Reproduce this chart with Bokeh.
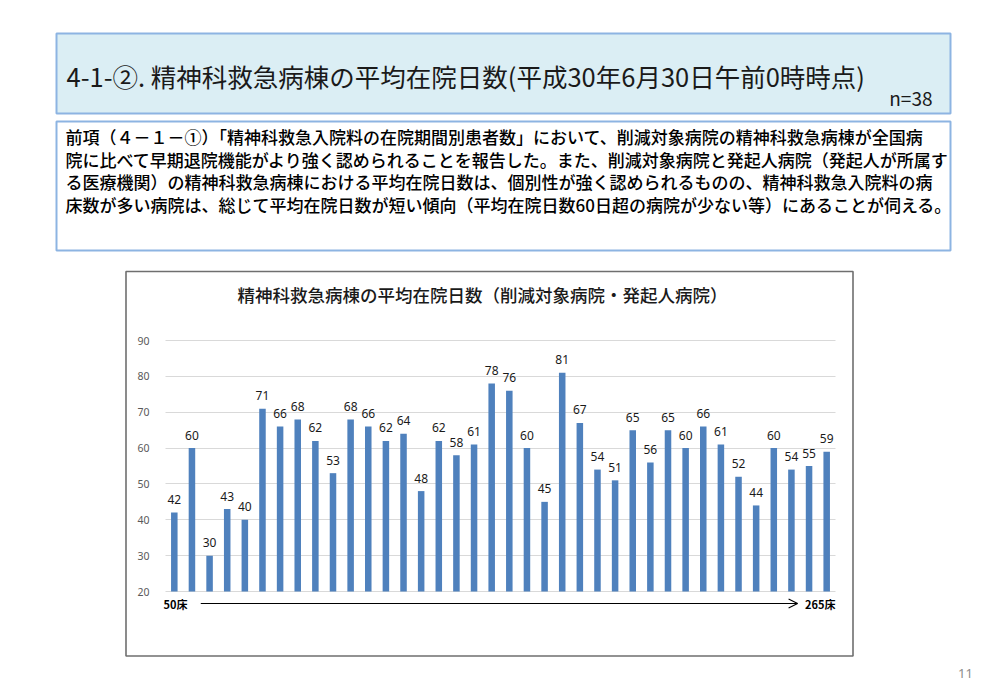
from bokeh.plotting import figure
from bokeh.models import Range1d, FixedTicker, LinearAxis, Grid, Arrow, OpenHead
from bokeh.core.properties import value
from bokeh.embed import file_html
from bokeh.resources import INLINE

CJK = "Noto Sans CJK JP"
CJK_MED = "'Noto Sans CJK JP Medium', 'Noto Sans CJK JP'"
NUM = "Noto Sans"

# ---------------- data ----------------
header_title = "4-1-②. 精神科救急病棟の平均在院日数(平成30年6月30日午前0時時点)"
n_label = "n=38"
body_lines = [
    "前項（４－１－①）「精神科救急入院料の在院期間別患者数」において、削減対象病院の精神科救急病棟が全国病",
    "院に比べて早期退院機能がより強く認められることを報告した。また、削減対象病院と発起人病院（発起人が所属す",
    "る医療機関）の精神科救急病棟における平均在院日数は、個別性が強く認められるものの、精神科救急入院料の病",
    "床数が多い病院は、総じて平均在院日数が短い傾向（平均在院日数60日超の病院が少ない等）にあることが伺える。",
]
chart_title = "精神科救急病棟の平均在院日数（削減対象病院・発起人病院）"
values = [42, 60, 30, 43, 40, 71, 66, 68, 62, 53, 68, 66, 62, 64, 48, 62, 58, 61, 78,
          76, 60, 45, 81, 67, 54, 51, 65, 56, 65, 60, 66, 61, 52, 44, 60, 54, 55, 59]
y_ticks = [20, 30, 40, 50, 60, 70, 80, 90]
left_label = "50床"
right_label = "265床"
page_number = "11"

# ---------------- layout constants (page pixels) ----------------
W, H = 1000, 692
PLOT_L, PLOT_R = 165, 835      # horizontal extent of the category axis
PLOT_T, PLOT_B = 340, 591      # pixel rows of the top / bottom y tick
BORDER = "#6F6F6F"
BOX_LINE = "#8DB4E2"

p = figure(width=W, height=H, x_range=Range1d(0, W), y_range=Range1d(H, 0),
           output_backend="svg", toolbar_location=None, min_border=0)
p.xaxis.visible = False
p.yaxis.visible = False
p.grid.visible = False
p.outline_line_color = None
p.background_fill_color = "white"
p.border_fill_color = "white"

# data ranges for the chart, placed over the page
n = len(values)
ymin, ymax = y_ticks[0], y_ticks[-1]
unit_x = (PLOT_R - PLOT_L) / n
bx_start = -0.5 - PLOT_L / unit_x
unit_y = (PLOT_B - PLOT_T) / (ymax - ymin)
vy_end = ymax + PLOT_T / unit_y
p.extra_x_ranges = {"bx": Range1d(bx_start, bx_start + W / unit_x)}
p.extra_y_ranges = {"vy": Range1d(vy_end - H / unit_y, vy_end)}

# ---------------- header boxes ----------------
p.quad(left=[56, 56], right=[950, 950], top=[33, 121], bottom=[113, 250],
       fill_color=["#DBEEF4", "white"], line_color=BOX_LINE, line_width=2)
p.text(x=[66], y=[75], text=[header_title], text_align="left", text_baseline="middle",
       text_font=value(CJK), text_font_size="25.5px", text_color="#1a1a1a")
p.text(x=[932], y=[97], text=[n_label], text_align="right", text_baseline="middle",
       text_font=value(CJK), text_font_size="19px", text_color="#1a1a1a")
p.text(x=[65] * len(body_lines), y=[136, 158.5, 181, 203.5], text=body_lines,
       text_align="left", text_baseline="middle",
       text_font=value(CJK_MED), text_font_size="17px", text_color="#000000")

# ---------------- chart box ----------------
p.quad(left=[125.5], right=[852.5], top=[271], bottom=[655.5],
       fill_color=None, line_color=BORDER, line_width=1.6)
p.text(x=[482], y=[294], text=[chart_title], text_align="center", text_baseline="middle",
       text_font=value(CJK_MED), text_font_size="17.5px", text_color="#1a1a1a")

yax = LinearAxis(y_range_name="vy", ticker=FixedTicker(ticks=y_ticks), fixed_location=PLOT_L)
yax.axis_line_color = None
yax.major_tick_line_color = None
yax.minor_tick_line_color = None
yax.major_label_standoff = 10
yax.major_label_text_font = NUM
yax.major_label_text_font_size = "10.5px"
yax.major_label_text_color = "#595959"
p.add_layout(yax, "left")

xs = list(range(n))
try:
    grid = Grid(dimension=1, ticker=FixedTicker(ticks=y_ticks), y_range_name="vy",
                cross_bounds=(PLOT_L, PLOT_R), grid_line_color="#D9D9D9", grid_line_width=1)
    p.add_layout(grid)
except Exception:
    p.segment(x0=[-0.5] * len(y_ticks), x1=[n - 0.5] * len(y_ticks), y0=y_ticks, y1=y_ticks,
              x_range_name="bx", y_range_name="vy", line_color="#D9D9D9", line_width=1)

p.vbar(x=xs, top=values, bottom=ymin, width=0.37, fill_color="#4F81BD", line_color=None,
       x_range_name="bx", y_range_name="vy")
p.text(x=xs, y=values, text=[str(v) for v in values], text_align="center",
       text_baseline="middle", y_offset=-13, text_font=value(NUM),
       text_font_size="12px", text_color="#1a1a1a", x_range_name="bx", y_range_name="vy")

arrow_y = ymin - 12 / unit_y
p.text(x=[-0.5 - 2 / unit_x], y=[arrow_y], text=[left_label], text_align="left",
       text_baseline="middle", text_font=value(CJK), text_font_size="11px",
       text_font_style="bold", text_color="#000000", x_range_name="bx", y_range_name="vy")
p.text(x=[n - 0.5], y=[arrow_y], text=[right_label], text_align="right",
       text_baseline="middle", text_font=value(CJK), text_font_size="11px",
       text_font_style="bold", text_color="#000000", x_range_name="bx", y_range_name="vy")
p.add_layout(Arrow(x_start=1.5, y_start=arrow_y, x_end=n - 2.65, y_end=arrow_y,
                   x_range_name="bx", y_range_name="vy",
                   line_color="black", line_width=1.2,
                   end=OpenHead(size=9, line_width=1.2, line_color="black")))

# ---------------- page number ----------------
p.text(x=[965], y=[673], text=[page_number], text_align="center", text_baseline="middle",
       text_font=value(NUM), text_font_size="13px", text_color="#8c8c8c")

open("out.html", "w").write(file_html(p, INLINE))
